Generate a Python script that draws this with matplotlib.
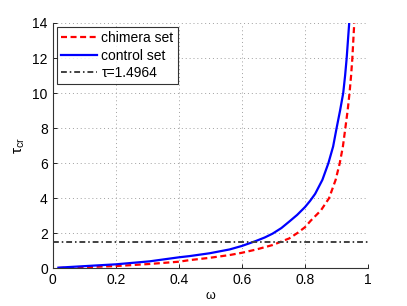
import matplotlib
matplotlib.use('Agg')
import matplotlib.pyplot as plt

plt.rcParams['font.family'] = ['Liberation Sans', 'DejaVu Sans']

# values
omega_chimera = [0.018, 0.2, 0.307, 0.4, 0.434, 0.497, 0.561, 0.6, 0.644, 0.697,
                 0.75, 0.776, 0.8, 0.818, 0.85, 0.876, 0.897, 0.91, 0.92, 0.927,
                 0.935, 0.941, 0.946, 0.95, 0.953, 0.956]
tau_chimera = [0.02, 0.13, 0.25, 0.38, 0.47, 0.60, 0.76, 0.89, 1.07, 1.33,
               1.71, 2.02, 2.35, 2.72, 3.3, 4.0, 5.05, 6.0, 6.95, 7.9,
               9.0, 10.0, 11.0, 12.0, 13.0, 14.0]

omega_control = [0.018, 0.2, 0.307, 0.4, 0.434, 0.497, 0.561, 0.6, 0.644, 0.672,
                 0.697, 0.725, 0.75, 0.775, 0.8, 0.816, 0.832, 0.855, 0.874, 0.889,
                 0.9, 0.911, 0.921, 0.927, 0.932, 0.936, 0.94]
tau_control = [0.04, 0.23, 0.40, 0.63, 0.70, 0.86, 1.08, 1.28, 1.56, 1.76,
               1.98, 2.3, 2.67, 3.05, 3.5, 3.85, 4.25, 5.05, 6.0, 6.95,
               8.0, 9.0, 10.0, 11.0, 12.0, 13.0, 14.0]

tau_const = 1.4964
xticks = [0, 0.2, 0.4, 0.6, 0.8, 1]
yticks = [0, 2, 4, 6, 8, 10, 12, 14]

fig = plt.figure(figsize=(4.07, 3.06), dpi=100)
ax = fig.add_axes([0.1295, 0.123, 0.775, 0.802])

ax.plot(omega_chimera, tau_chimera, color='#ff0000', lw=1.6, dashes=(2.7, 1.6),
        label='chimera set')
ax.plot(omega_control, tau_control, '-', color='#0000ff', lw=1.6, label='control set')
ax.plot([0, 1], [tau_const, tau_const], color='#404040', lw=1.4,
        dashes=(3.0, 1.5, 0.8, 1.5), label='τ=1.4964')

ax.set_xlim(0, 1)
ax.set_ylim(0, 14)
ax.set_xticks(xticks)
ax.set_xticklabels(['0', '0.2', '0.4', '0.6', '0.8', '1'])
ax.set_yticks(yticks)
ax.tick_params(direction='in', length=3, labelsize=10, width=0.6, colors='#000000')
ax.grid(True, linestyle=(0, (1, 3)), color='#a0a0a0', lw=0.7)
for s in ['top', 'right']:
    ax.spines[s].set_visible(False)
for s in ['left', 'bottom']:
    ax.spines[s].set_color('#333333')
    ax.spines[s].set_linewidth(0.8)

ax.set_xlabel('ω', fontsize=9, labelpad=2)
ax.set_ylabel(r'$\mathregular{\tau_{cr}}$', fontsize=11, labelpad=4)

leg = ax.legend(loc='upper left', fontsize=10, frameon=True, fancybox=False,
                edgecolor='black', borderaxespad=0.3, handlelength=2.6,
                borderpad=0.3, labelspacing=0.25, handletextpad=0.3)
leg.get_frame().set_linewidth(0.8)

fig.savefig('out.png', dpi=100)
